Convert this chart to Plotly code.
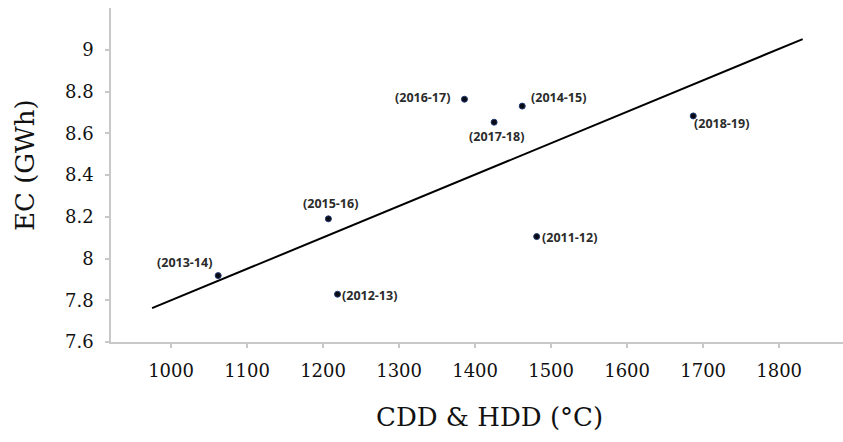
import plotly.graph_objects as go

# Energy consumption vs. combined cooling + heating degree days, by fiscal year
years = ["(2011-12)", "(2012-13)", "(2013-14)", "(2014-15)",
         "(2015-16)", "(2016-17)", "(2017-18)", "(2018-19)"]
degree_days = [1481, 1219, 1062, 1462, 1207, 1386, 1425, 1687]
ec_gwh = [8.105, 7.829, 7.918, 8.730, 8.190, 8.763, 8.653, 8.683]

# Linear trend line end points
trend_x = [975, 1831]
trend_y = [7.762, 9.051]

x_ticks = [1000, 1100, 1200, 1300, 1400, 1500, 1600, 1700, 1800]
y_ticks = [7.6, 7.8, 8.0, 8.2, 8.4, 8.6, 8.8, 9.0]
y_tick_text = ["7.6", "7.8", "8", "8.2", "8.4", "8.6", "8.8", "9"]

# Pixel offsets of each year label relative to its point
label_offset = {
    "(2011-12)": (33, -1),
    "(2012-13)": (32, -1),
    "(2013-14)": (-34, 13),
    "(2014-15)": (36, 9),
    "(2015-16)": (2, 15),
    "(2016-17)": (-42, 2),
    "(2017-18)": (2, -14),
    "(2018-19)": (28, -8),
}

fig = go.Figure()

fig.add_trace(go.Scatter(
    x=trend_x, y=trend_y, mode="lines",
    line=dict(color="#000000", width=2),
    hoverinfo="skip", showlegend=False,
))

fig.add_trace(go.Scatter(
    x=degree_days, y=ec_gwh, mode="markers",
    marker=dict(size=6, color="#0a0a14", line=dict(color="#1f3b73", width=1)),
    showlegend=False,
))

for yr, xv, yv in zip(years, degree_days, ec_gwh):
    dx, dy = label_offset[yr]
    fig.add_annotation(
        x=xv, y=yv, text=yr, showarrow=False,
        xshift=dx, yshift=dy,
        font=dict(family="Open Sans", size=12.5, color="#2b2b2b", weight=700),
    )

serif = "DejaVu Serif"

# Axis titles
fig.add_annotation(
    text="EC (GWh)", xref="paper", yref="paper", x=0, y=0.53,
    xshift=-86, textangle=-90, showarrow=False,
    xanchor="center", yanchor="middle",
    font=dict(family=serif, size=26, color="#111111"),
)
fig.add_annotation(
    text="CDD &amp; HDD (°C)", xref="paper", yref="paper", x=0.517, y=0,
    yshift=-75, showarrow=False, xanchor="center", yanchor="middle",
    font=dict(family=serif, size=26, color="#111111"),
)

axis_line = "#c8c8c8"
fig.update_xaxes(
    range=[921, 1884], tickvals=x_ticks,
    showgrid=False, zeroline=False,
    showline=True, linecolor=axis_line, linewidth=1.5,
    ticks="outside", ticklen=4, tickcolor=axis_line, tickwidth=1.5,
    ticklabelstandoff=8,
    tickfont=dict(family=serif, size=18, color="#111111"),
)
fig.update_yaxes(
    range=[7.6, 9.2], tickvals=y_ticks, ticktext=y_tick_text,
    showgrid=False, zeroline=False,
    showline=True, linecolor=axis_line, linewidth=1.5,
    ticks="outside", ticklen=4, tickcolor=axis_line, tickwidth=1.5,
    ticklabelstandoff=8,
    tickfont=dict(family=serif, size=18, color="#111111"),
)

fig.update_layout(
    width=843, height=442,
    margin=dict(l=111, r=0, t=8, b=100),
    paper_bgcolor="white", plot_bgcolor="white",
)

fig.write_html("out.html")
